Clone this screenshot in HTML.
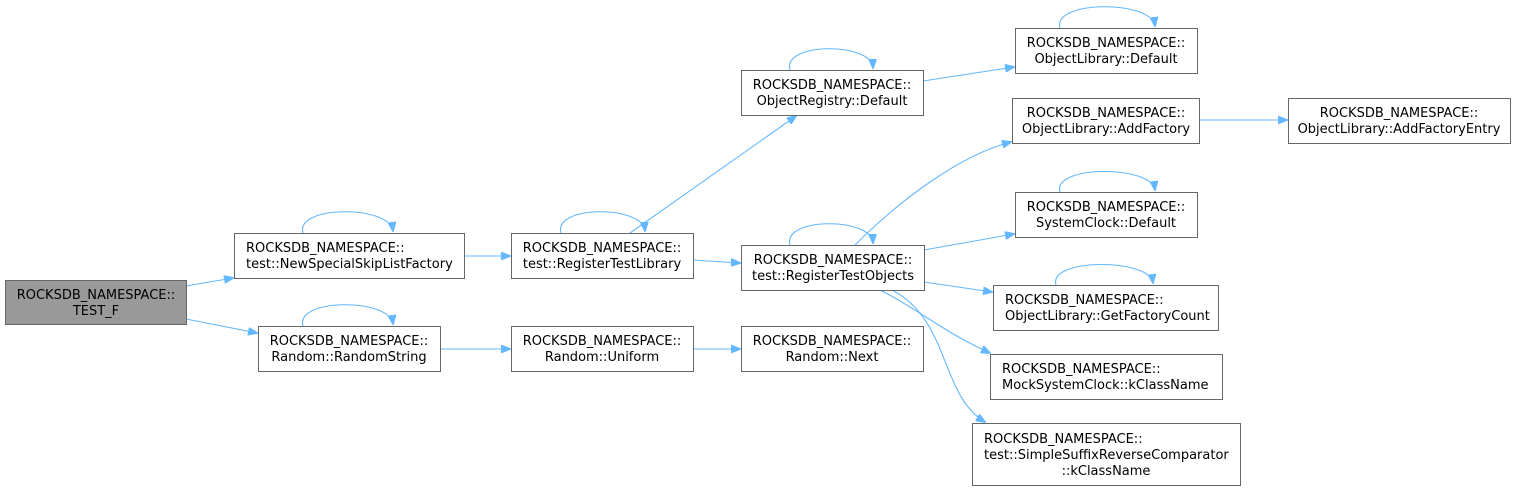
<!DOCTYPE html>
<html><head><meta charset="utf-8"><style>
html,body{margin:0;padding:0;background:#fff;}
svg{display:block;}
text{font-family:"DejaVu Sans","Liberation Sans",sans-serif;font-size:13px;fill:#000;}
.n{fill:#fff;stroke:#666;stroke-width:1;}
.e{fill:none;stroke:#63b8ff;stroke-width:1.1;}
.a{fill:#63b8ff;stroke:#63b8ff;}
</style></head><body>
<svg width="1516" height="491" viewBox="0 0 1516 491" xmlns="http://www.w3.org/2000/svg">
<defs><marker id="m" markerWidth="10" markerHeight="8" refX="9" refY="4" orient="auto" markerUnits="userSpaceOnUse"><path d="M0,0 L10,4 L0,8 z" class="a"/></marker></defs>
<g class="e" marker-end="url(#m)">
<path d="M186,286 L233,278"/>
<path d="M186,319 L257,333"/>
<path d="M303,233 C295,205 390,205 393,231"/>
<path d="M303,326 C295,298 390,298 393,324"/>
<path d="M464,256 L510,256"/>
<path d="M440,349 L510,349"/>
<path d="M561,233 C553,205 643,205 645,231"/>
<path d="M693,260 L740,263"/>
<path d="M693,349 L740,349"/>
<path d="M630,233 L796,116"/>
<path d="M790,70 C782,42 872,42 873,68"/>
<path d="M923,81 L1014,67"/>
<path d="M1060,28 C1052,0 1152,0 1155,26"/>
<path d="M790,245 C782,217 872,217 873,243"/>
<path d="M855,245 C900,200 960,155 1011,142"/>
<path d="M924,250 L1014,234"/>
<path d="M924,282 L992,292"/>
<path d="M880,290 C920,310 940,330 990,353"/>
<path d="M892,290 C950,320 940,395 985,422"/>
<path d="M1199,120 L1287,120"/>
<path d="M1060,192 C1052,165 1152,165 1155,190"/>
<path d="M1056,285 C1048,258 1150,258 1153,283"/>
</g>
<rect x="5.5" y="280.5" width="181" height="44" fill="#999" stroke="#666"/>
<text x="96" y="299" text-anchor="middle">ROCKSDB_NAMESPACE::</text><text x="96" y="315" text-anchor="middle">TEST_F</text>

<rect class="n" x="234.5" y="233.5" width="230" height="45"/>
<text x="246" y="252">ROCKSDB_NAMESPACE::</text><text x="246" y="268">test::NewSpecialSkipListFactory</text>

<rect class="n" x="258.5" y="326.5" width="182" height="45"/>
<text x="349" y="345" text-anchor="middle">ROCKSDB_NAMESPACE::</text><text x="349" y="361" text-anchor="middle">Random::RandomString</text>

<rect class="n" x="511.5" y="233.5" width="182" height="45"/>
<text x="602" y="252" text-anchor="middle">ROCKSDB_NAMESPACE::</text><text x="602" y="268" text-anchor="middle">test::RegisterTestLibrary</text>

<rect class="n" x="511.5" y="326.5" width="182" height="45"/>
<text x="602" y="345" text-anchor="middle">ROCKSDB_NAMESPACE::</text><text x="602" y="361" text-anchor="middle">Random::Uniform</text>

<rect class="n" x="741.5" y="70.5" width="182" height="45"/>
<text x="832" y="89" text-anchor="middle">ROCKSDB_NAMESPACE::</text><text x="832" y="105" text-anchor="middle">ObjectRegistry::Default</text>

<rect class="n" x="741.5" y="245.5" width="183" height="45"/>
<text x="833" y="264" text-anchor="middle">ROCKSDB_NAMESPACE::</text><text x="833" y="280" text-anchor="middle">test::RegisterTestObjects</text>

<rect class="n" x="741.5" y="326.5" width="182" height="45"/>
<text x="832" y="345" text-anchor="middle">ROCKSDB_NAMESPACE::</text><text x="832" y="361" text-anchor="middle">Random::Next</text>

<rect class="n" x="1015.5" y="28.5" width="182" height="45"/>
<text x="1106" y="47" text-anchor="middle">ROCKSDB_NAMESPACE::</text><text x="1106" y="63" text-anchor="middle">ObjectLibrary::Default</text>

<rect class="n" x="1012.5" y="98.5" width="187" height="45"/>
<text x="1106" y="117" text-anchor="middle">ROCKSDB_NAMESPACE::</text><text x="1106" y="133" text-anchor="middle">ObjectLibrary::AddFactory</text>

<rect class="n" x="1288.5" y="98.5" width="222" height="45"/>
<text x="1399" y="117" text-anchor="middle">ROCKSDB_NAMESPACE::</text><text x="1399" y="133" text-anchor="middle">ObjectLibrary::AddFactoryEntry</text>

<rect class="n" x="1015.5" y="192.5" width="182" height="45"/>
<text x="1106" y="211" text-anchor="middle">ROCKSDB_NAMESPACE::</text><text x="1106" y="227" text-anchor="middle">SystemClock::Default</text>

<rect class="n" x="993.5" y="285.5" width="225" height="45"/>
<text x="1005" y="304">ROCKSDB_NAMESPACE::</text><text x="1005" y="320">ObjectLibrary::GetFactoryCount</text>

<rect class="n" x="990.5" y="354.5" width="232" height="45"/>
<text x="1002" y="373">ROCKSDB_NAMESPACE::</text><text x="1002" y="389">MockSystemClock::kClassName</text>

<rect class="n" x="972.5" y="423.5" width="268" height="62"/>
<text x="984" y="443">ROCKSDB_NAMESPACE::</text><text x="984" y="459">test::SimpleSuffixReverseComparator</text><text x="1106" y="475" text-anchor="middle">::kClassName</text>
</svg>
</body></html>
